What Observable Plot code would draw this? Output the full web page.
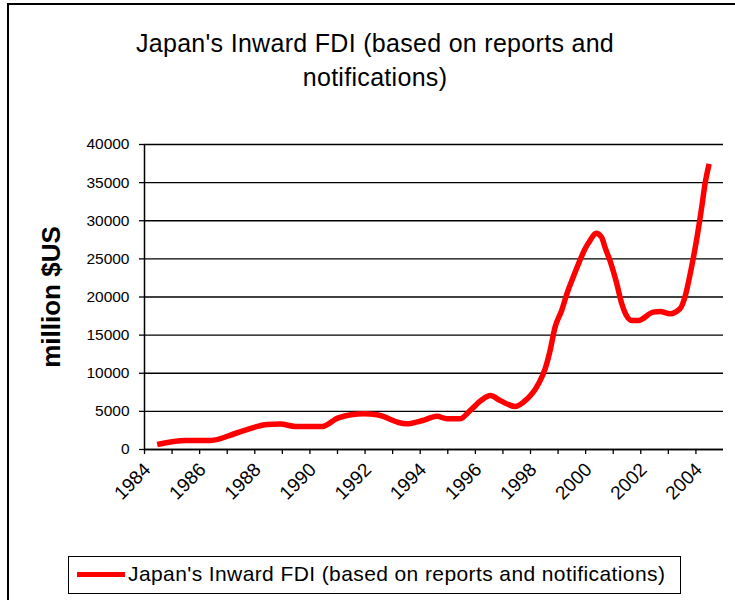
<!DOCTYPE html>
<html><head><meta charset="utf-8">
<script src="https://cdn.jsdelivr.net/npm/d3@7"></script>
<script src="https://cdn.jsdelivr.net/npm/@observablehq/plot@0.6"></script>
<style>
body{margin:0;background:#fff;font-family:"Liberation Sans",Arial,sans-serif;}
#wrap{position:relative;width:735px;height:600px;overflow:hidden;background:#fff}
#frame{position:absolute;left:7px;top:3px;width:760px;height:640px;border:2.5px solid #000;box-sizing:border-box}
#title{position:absolute;left:0;width:750px;top:26px;text-align:center;font-size:25px;letter-spacing:0.3px;line-height:34px;color:#000}
#chart{position:absolute;left:0;top:0}
#ylabel{position:absolute;left:51px;top:297px;transform:translate(-50%,-50%) rotate(-90deg);font-weight:bold;font-size:26px;white-space:nowrap}
#legend{position:absolute;left:68px;top:556px;width:613px;height:38px;border:1.5px solid #000;box-sizing:border-box;background:#fff}
#legend .sw{position:absolute;left:8px;top:15px;width:48px;height:5px;background:#ff0000}
#legend .tx{position:absolute;left:59px;top:5px;font-size:21px;letter-spacing:0.4px;white-space:nowrap}
</style>
</head><body>
<div id="wrap">
  <div id="frame"></div>
  <div id="title">Japan's Inward FDI (based on reports and<br>notifications)</div>
  <div id="chart"></div>
  <div id="ylabel">million $US</div>
  <div id="legend"><div class="sw"></div><div class="tx">Japan's Inward FDI (based on reports and notifications)</div></div>
</div>
<script>
// Data (x = position in years, y = million $US)
const years = [1984.46,1985.49,1986.39,1987.4,1988.45,1988.93,1989.47,1990.44,1991.03,1991.95,1992.43,
  1993.49,1994.09,1994.6,1994.97,1995.45,1995.81,1996.24,1996.54,1996.9,1997.45,1997.74,1998.29,
  1998.53,1998.71,1998.89,1999.13,1999.32,1999.5,1999.74,1999.98,2000.16,2000.38,2000.58,2000.7,
  2000.88,2001.13,2001.31,2001.46,2001.67,2001.91,2002.45,2002.7,2003.06,2003.42,2003.6,2003.84,
  2004.02,2004.21,2004.33,2004.48];
const values = [650,1180,1180,2230,3280,3340,3020,3020,4160,4680,4550,
  3370,3800,4370,4030,4030,5110,6520,7080,6430,5640,6200,8620,
  10580,12980,16040,18230,20420,22160,24350,26320,27410,28370,27840,26530,
  24790,21730,19110,17700,16920,16920,18010,18100,17800,18450,19970,23910,
  27410,31780,34850,37470];
const yTicks = [0,5000,10000,15000,20000,25000,30000,35000,40000];
const xTickYears = d3.range(1984, 2005);
const xLabelYears = [1984,1986,1988,1990,1992,1994,1996,1998,2000,2002,2004];
const seriesName = "Japan's Inward FDI (based on reports and notifications)";

const data = years.map((x, i) => ({x, y: values[i]}));

const chart = Plot.plot({
  width: 735,
  height: 530,
  marginLeft: 144,
  marginRight: 12,
  marginTop: 144,
  marginBottom: 81,
  style: {fontFamily: "'Liberation Sans', Arial, sans-serif", background: "transparent", overflow: "visible"},
  x: {type: "linear", domain: [1984, 2005], axis: null},
  y: {type: "linear", domain: [0, 40000], axis: null},
  marks: [
    Plot.gridY(yTicks, {stroke: "#000", strokeOpacity: 1, strokeWidth: 1.3}),
    Plot.axisY(yTicks, {tickSize: 5, tickPadding: 10, fontSize: 15.5, tickFormat: d => String(d), stroke: "#000", strokeWidth: 1.3, label: null}),
    Plot.axisX(xTickYears, {tickSize: 5, tickFormat: () => "", stroke: "#000", strokeWidth: 1.3, label: null}),
    Plot.ruleX([1984], {stroke: "#000", strokeWidth: 1.5}),
    Plot.ruleY([0], {stroke: "#000", strokeWidth: 1.5}),
    Plot.text(xLabelYears, {x: d => d, y: () => 0, text: d => String(d), rotate: -45, textAnchor: "end", dy: 17, dx: 3, fontSize: 19, fill: "#000"}),
    Plot.line(data, {x: "x", y: "y", stroke: "#ff0000", strokeWidth: 5.5, curve: "monotone-x", strokeLinejoin: "round", strokeLinecap: "butt"})
  ]
});
document.getElementById("chart").appendChild(chart);
</script>
</body></html>
